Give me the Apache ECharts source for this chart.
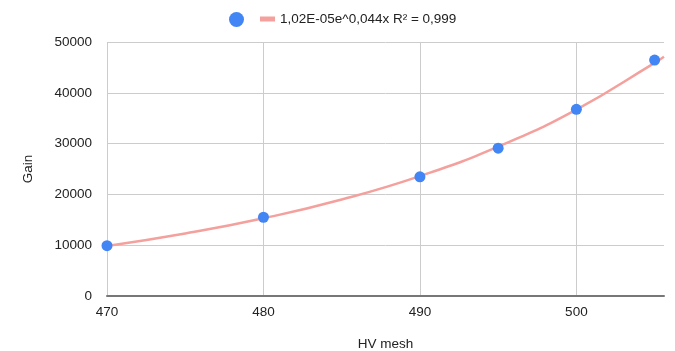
<!DOCTYPE html>
<html>
<head>
<meta charset="utf-8">
<script src="https://cdn.jsdelivr.net/npm/echarts@6/dist/echarts.min.js"></script>
<style>
  html, body { margin: 0; padding: 0; background: #fff; }
  #chart { width: 675px; height: 351px; }
</style>
</head>
<body>
<div id="chart"></div>
<script>
// measured points
const hvMesh = [470, 480, 490, 495, 500, 505];
const gain = [9900, 15500, 23450, 29100, 36750, 46450];

// trendline
const trendX = [470, 475, 480, 485, 490, 495, 500, 505, 505.6];
const trendY = [9850, 12300, 15300, 19000, 23600, 29400, 36700, 45900, 47100];

const trendLabel = '1,02E-05e^0,044x R² = 0,999';

const font = { fontFamily: 'Liberation Sans, Arial, sans-serif', fontSize: 13.5, color: '#222' };

const chart = echarts.init(document.getElementById('chart'));
chart.setOption({
  animation: false,
  grid: { left: 107, right: 11, top: 42, bottom: 55, outerBoundsMode: 'none' },
  legend: [
    {
      data: ['Gain'],
      left: 224, top: 7,
      icon: 'circle', itemWidth: 15, itemHeight: 15,
      formatter: () => '',
      textStyle: font
    },
    {
      data: [trendLabel],
      left: 255, top: 7,
      icon: 'rect', itemWidth: 15, itemHeight: 5, itemGap: 8,
      textStyle: font
    }
  ],
  xAxis: {
    type: 'value',
    min: 470, max: 505.6, interval: 10,
    name: 'HV mesh', nameLocation: 'middle', nameGap: 41,
    nameTextStyle: font,
    axisLine: { show: true, lineStyle: { color: '#777', width: 2 } },
    axisTick: { show: false },
    axisLabel: { ...font, margin: 9, showMaxLabel: false },
    splitLine: { show: true, showMaxLine: false, lineStyle: { color: '#ccc' } }
  },
  yAxis: {
    type: 'value',
    min: 0, max: 50000, interval: 10000,
    name: 'Gain', nameLocation: 'middle', nameGap: 72,
    nameTextStyle: font,
    axisLine: { show: false },
    axisTick: { show: false },
    axisLabel: { ...font, margin: 15, formatter: v => String(v) },
    splitLine: { lineStyle: { color: '#ccc' } }
  },
  series: [
    {
      name: trendLabel,
      type: 'line',
      data: trendX.map((x, i) => [x, trendY[i]]),
      smooth: true,
      showSymbol: false,
      color: '#f4a09c',
      lineStyle: { width: 2.5, color: '#f4a09c' },
      z: 2
    },
    {
      name: 'Gain',
      type: 'scatter',
      data: hvMesh.map((x, i) => [x, gain[i]]),
      symbolSize: 11,
      itemStyle: { color: '#4285f4', opacity: 1 },
      z: 3
    }
  ]
});
</script>
</body>
</html>
